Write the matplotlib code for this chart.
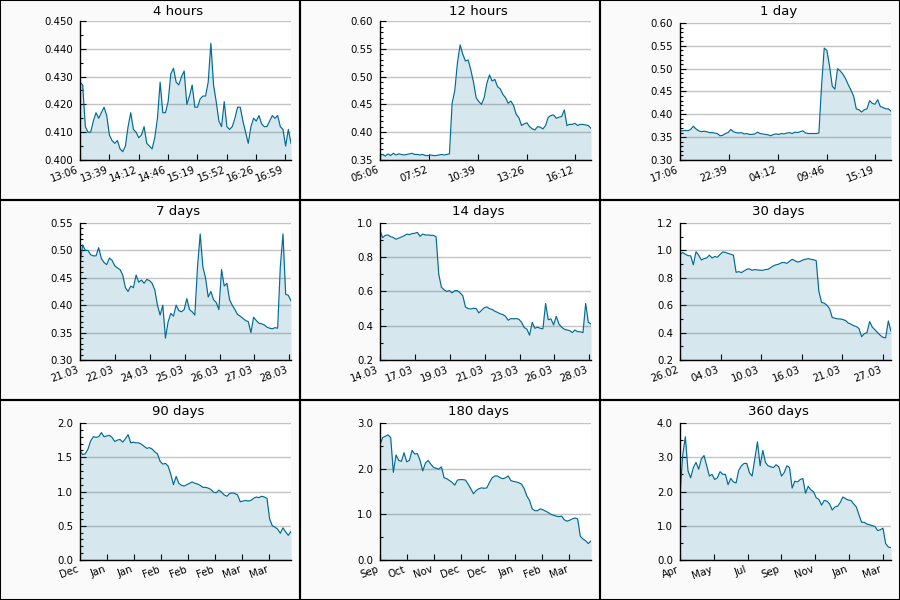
import numpy as np
import matplotlib
matplotlib.use('Agg')
import matplotlib.pyplot as plt
from matplotlib.patches import Rectangle
from matplotlib.ticker import MultipleLocator, AutoMinorLocator, FormatStrFormatter

# price series, evenly sampled over each window
price_4h = [0.428, 0.427, 0.412, 0.410, 0.410, 0.414, 0.417, 0.415, 0.417, 0.419,
            0.416, 0.409, 0.407, 0.406, 0.407, 0.404, 0.403, 0.405, 0.412, 0.417,
            0.411, 0.410, 0.408, 0.409, 0.412, 0.406, 0.405, 0.404, 0.408, 0.415,
            0.428, 0.417, 0.417, 0.421, 0.431, 0.433, 0.428, 0.427, 0.430, 0.432,
            0.420, 0.423, 0.427, 0.419, 0.419, 0.422, 0.423, 0.423, 0.428, 0.442,
            0.427, 0.421, 0.414, 0.412, 0.421, 0.412, 0.411, 0.412, 0.415, 0.419,
            0.419, 0.414, 0.410, 0.406, 0.412, 0.415, 0.414, 0.416, 0.413, 0.412,
            0.412, 0.414, 0.416, 0.415, 0.416, 0.412, 0.411, 0.405, 0.411, 0.406]
price_12h = [0.359, 0.360, 0.357, 0.361, 0.358, 0.362, 0.359, 0.361, 0.360, 0.359,
             0.360, 0.361, 0.362, 0.360, 0.360, 0.359, 0.360, 0.358, 0.358, 0.359,
             0.358, 0.358, 0.359, 0.360, 0.359, 0.360, 0.361, 0.452, 0.475, 0.525,
             0.557, 0.540, 0.528, 0.530, 0.512, 0.490, 0.462, 0.455, 0.450, 0.462,
             0.488, 0.503, 0.492, 0.495, 0.482, 0.478, 0.468, 0.462, 0.452, 0.456,
             0.448, 0.432, 0.426, 0.412, 0.415, 0.417, 0.410, 0.406, 0.404, 0.410,
             0.409, 0.406, 0.412, 0.427, 0.430, 0.431, 0.425, 0.427, 0.428, 0.440,
             0.412, 0.414, 0.414, 0.416, 0.412, 0.414, 0.414, 0.413, 0.412, 0.407]
price_1d = [0.364, 0.364, 0.365, 0.364, 0.367, 0.374, 0.368, 0.364, 0.362, 0.363,
            0.362, 0.360, 0.360, 0.359, 0.358, 0.353, 0.354, 0.358, 0.360, 0.367,
            0.362, 0.360, 0.359, 0.360, 0.357, 0.358, 0.356, 0.356, 0.357, 0.361,
            0.358, 0.357, 0.356, 0.355, 0.353, 0.356, 0.357, 0.356, 0.358, 0.357,
            0.359, 0.360, 0.358, 0.361, 0.360, 0.362, 0.364, 0.359, 0.358, 0.358,
            0.358, 0.358, 0.359, 0.462, 0.545, 0.540, 0.505, 0.462, 0.455, 0.500,
            0.495, 0.488, 0.478, 0.465, 0.453, 0.440, 0.412, 0.410, 0.405, 0.410,
            0.412, 0.430, 0.424, 0.422, 0.432, 0.417, 0.415, 0.412, 0.412, 0.407]
price_7d = [0.475, 0.510, 0.500, 0.500, 0.492, 0.490, 0.490, 0.505, 0.485, 0.478,
            0.474, 0.486, 0.482, 0.472, 0.468, 0.465, 0.455, 0.432, 0.425, 0.435,
            0.432, 0.455, 0.442, 0.446, 0.440, 0.447, 0.445, 0.440, 0.428, 0.400,
            0.382, 0.400, 0.340, 0.370, 0.385, 0.380, 0.400, 0.390, 0.388, 0.392,
            0.412, 0.392, 0.388, 0.382, 0.470, 0.530, 0.470, 0.450, 0.415, 0.425,
            0.410, 0.405, 0.392, 0.465, 0.435, 0.440, 0.410, 0.400, 0.392, 0.383,
            0.380, 0.376, 0.372, 0.370, 0.350, 0.378, 0.372, 0.367, 0.366, 0.364,
            0.360, 0.358, 0.357, 0.359, 0.358, 0.470, 0.530, 0.420, 0.418, 0.408]
price_14d = [0.955, 0.915, 0.928, 0.930, 0.920, 0.915, 0.905, 0.912, 0.918, 0.925,
             0.935, 0.932, 0.938, 0.940, 0.945, 0.922, 0.935, 0.930, 0.930, 0.928,
             0.928, 0.920, 0.700, 0.625, 0.610, 0.600, 0.605, 0.592, 0.605, 0.605,
             0.592, 0.575, 0.510, 0.500, 0.498, 0.502, 0.500, 0.475, 0.490, 0.505,
             0.510, 0.500, 0.495, 0.485, 0.478, 0.470, 0.465, 0.455, 0.432, 0.442,
             0.440, 0.442, 0.438, 0.420, 0.390, 0.380, 0.345, 0.420, 0.385, 0.392,
             0.385, 0.382, 0.530, 0.435, 0.440, 0.405, 0.455, 0.410, 0.392, 0.380,
             0.375, 0.372, 0.360, 0.375, 0.365, 0.365, 0.360, 0.530, 0.420, 0.410]
price_30d = [0.970, 0.985, 0.972, 0.962, 0.960, 0.895, 0.990, 0.965, 0.930, 0.940,
             0.945, 0.965, 0.945, 0.955, 0.950, 0.970, 0.988, 0.985, 0.978, 0.972,
             0.965, 0.840, 0.845, 0.838, 0.850, 0.862, 0.865, 0.855, 0.860, 0.858,
             0.855, 0.855, 0.860, 0.862, 0.875, 0.888, 0.895, 0.900, 0.910, 0.912,
             0.905, 0.920, 0.935, 0.925, 0.915, 0.920, 0.930, 0.935, 0.940, 0.935,
             0.932, 0.925, 0.700, 0.620, 0.615, 0.600, 0.575, 0.510, 0.505, 0.500,
             0.500, 0.495, 0.488, 0.470, 0.462, 0.450, 0.445, 0.430, 0.370, 0.392,
             0.400, 0.480, 0.440, 0.420, 0.400, 0.380, 0.365, 0.362, 0.485, 0.410]
price_90d = [1.60, 1.54, 1.55, 1.62, 1.74, 1.80, 1.79, 1.80, 1.86, 1.80,
             1.81, 1.82, 1.79, 1.73, 1.75, 1.76, 1.72, 1.77, 1.83, 1.71,
             1.72, 1.71, 1.71, 1.69, 1.66, 1.63, 1.64, 1.62, 1.58, 1.55,
             1.44, 1.40, 1.41, 1.37, 1.25, 1.10, 1.22, 1.12, 1.09, 1.08,
             1.10, 1.12, 1.14, 1.12, 1.11, 1.09, 1.06, 1.06, 1.05, 1.03,
             0.99, 0.98, 1.02, 0.99, 0.95, 0.93, 0.97, 0.98, 0.97, 0.95,
             0.85, 0.86, 0.87, 0.86, 0.87, 0.90, 0.92, 0.91, 0.93, 0.92,
             0.90, 0.60, 0.50, 0.48, 0.45, 0.39, 0.47, 0.41, 0.36, 0.42]
price_180d = [2.52, 2.68, 2.71, 2.74, 2.68, 1.92, 2.30, 2.18, 2.16, 2.35,
              2.15, 2.18, 2.40, 2.32, 2.33, 2.18, 1.95, 2.12, 2.18, 2.10,
              2.03, 2.01, 1.99, 2.04, 1.80, 1.78, 1.74, 1.70, 1.64, 1.75,
              1.76, 1.76, 1.75, 1.66, 1.56, 1.45, 1.52, 1.56, 1.58, 1.57,
              1.58, 1.70, 1.80, 1.84, 1.84, 1.80, 1.78, 1.80, 1.84, 1.74,
              1.72, 1.71, 1.69, 1.66, 1.56, 1.40, 1.30, 1.12, 1.08, 1.08,
              1.12, 1.10, 1.07, 1.04, 1.00, 0.98, 0.96, 0.95, 0.96, 0.88,
              0.85, 0.87, 0.90, 0.92, 0.90, 0.52, 0.46, 0.42, 0.36, 0.42]
price_360d = [1.90, 3.05, 3.60, 2.60, 2.40, 2.70, 2.85, 2.65, 2.95, 3.05,
              2.75, 2.45, 2.50, 2.35, 2.40, 2.58, 2.50, 2.50, 2.20, 2.38,
              2.28, 2.25, 2.62, 2.75, 2.82, 2.82, 2.55, 2.45, 2.95, 3.45,
              2.75, 3.20, 2.85, 2.75, 2.72, 2.70, 2.78, 2.72, 2.45, 2.55,
              2.75, 2.70, 2.10, 2.30, 2.28, 2.35, 2.38, 1.95, 2.15, 2.05,
              1.99, 1.82, 1.77, 1.60, 1.74, 1.72, 1.64, 1.46, 1.55, 1.57,
              1.68, 1.84, 1.79, 1.75, 1.74, 1.64, 1.55, 1.32, 1.10, 1.10,
              1.05, 1.03, 1.00, 0.98, 0.86, 0.88, 0.93, 0.48, 0.38, 0.36]

labels_4h = ['13:06', '13:39', '14:12', '14:46', '15:19', '15:52', '16:26', '16:59']
labels_12h = ['05:06', '07:52', '10:39', '13:26', '16:12']
labels_1d = ['17:06', '22:39', '04:12', '09:46', '15:19']
labels_7d = ['21.03', '22.03', '24.03', '25.03', '26.03', '27.03', '28.03']
labels_14d = ['14.03', '17.03', '19.03', '21.03', '23.03', '26.03', '28.03']
labels_30d = ['26.02', '04.03', '10.03', '16.03', '21.03', '27.03']
labels_90d = ['Dec', 'Jan', 'Jan', 'Feb', 'Feb', 'Feb', 'Mar', 'Mar']
labels_180d = ['Sep', 'Oct', 'Nov', 'Dec', 'Dec', 'Jan', 'Feb', 'Mar']
labels_360d = ['Apr', 'May', 'Jul', 'Sep', 'Nov', 'Jan', 'Mar']

# title, series, labels, tick step (fraction of window), ymin, ymax, ystep, fmt, minor divs
panels = [
    ('4 hours', price_4h, labels_4h, 0.1389, 0.40, 0.45, 0.01, '%.3f', 2),
    ('12 hours', price_12h, labels_12h, 0.2315, 0.35, 0.60, 0.05, '%.2f', 5),
    ('1 day', price_1d, labels_1d, 0.2315, 0.30, 0.60, 0.05, '%.2f', 5),
    ('7 days', price_7d, labels_7d, 0.1654, 0.30, 0.55, 0.05, '%.2f', 5),
    ('14 days', price_14d, labels_14d, 0.1654, 0.2, 1.0, 0.2, '%.1f', 2),
    ('30 days', price_30d, labels_30d, 0.1921, 0.2, 1.2, 0.2, '%.1f', 2),
    ('90 days', price_90d, labels_90d, 0.1282, 0.0, 2.0, 0.5, '%.1f', 5),
    ('180 days', price_180d, labels_180d, 0.1282, 0.0, 3.0, 1.0, '%.1f', 2),
    ('360 days', price_360d, labels_360d, 0.1601, 0.0, 4.0, 1.0, '%.1f', 2),
]

LINE = '#006b94'
W, H = 900, 600

fig = plt.figure(figsize=(9, 6), dpi=100)
fig.patch.set_facecolor('#fafafa')

for i, (title, vals, labels, step, ymin, ymax, ystep, fmt, nminor) in enumerate(panels):
    r, c = divmod(i, 3)
    top = 21 if i < 2 else 23
    left = 300 * c + 80
    bottom = 200 * r + 160
    ax = fig.add_axes([left / W, 1 - bottom / H, 211 / W, (160 - top) / H])
    ax.set_facecolor('white')

    x = np.linspace(0, 1, len(vals))
    ax.fill_between(x, vals, ymin, color=LINE, alpha=0.16, linewidth=0)
    ax.plot(x, vals, color=LINE, lw=0.85)

    ax.set_xlim(0, 1)
    ax.set_ylim(ymin, ymax)
    ax.yaxis.set_major_locator(MultipleLocator(ystep))
    ax.yaxis.set_minor_locator(AutoMinorLocator(nminor))
    ax.yaxis.set_major_formatter(FormatStrFormatter(fmt))
    ax.set_xticks(np.arange(len(labels)) * step)
    ax.set_xticklabels(labels, rotation=20, ha='right')

    ax.set_axisbelow(True)
    ax.grid(axis='y', color='#c4c4c4', lw=1)
    for s in ('top', 'right'):
        ax.spines[s].set_visible(False)
    for s in ('left', 'bottom'):
        ax.spines[s].set_linewidth(1)
    ax.tick_params(which='both', direction='in', labelsize=7.3, colors='black')
    ax.tick_params(axis='y', which='major', length=4.2, width=0.8, pad=5)
    ax.tick_params(axis='y', which='minor', length=2.2, width=0.8)
    ax.tick_params(axis='x', which='major', length=4.5, width=0.8, pad=3)

    fig.text((300 * c + 178.5) / W, 1 - (200 * r + 15) / H, title,
             ha='center', va='baseline', fontsize=9.5)

    fig.patches.append(Rectangle((300 * c / W, 1 - 200 * (r + 1) / H), 300 / W, 200 / H,
                                 transform=fig.transFigure, fill=False,
                                 edgecolor='black', lw=1.5, zorder=10))

fig.savefig('out.png', dpi=100, facecolor=fig.get_facecolor())
